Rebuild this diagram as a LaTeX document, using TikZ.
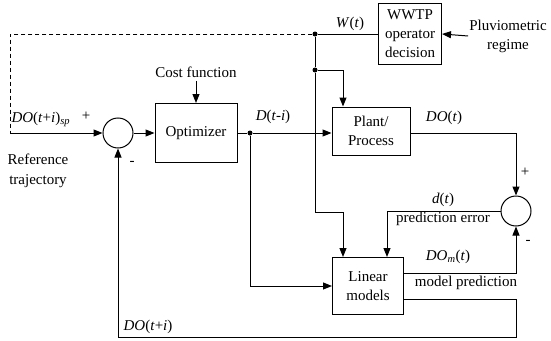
\documentclass[tikz,border=0pt]{standalone}
\usepackage{fontspec}
\setmainfont{Liberation Serif}
\usetikzlibrary{arrows.meta}

\begin{document}
\begin{tikzpicture}[%%
  x=1pt,y=-1pt,
  font=\rmfamily\fontsize{15}{19}\selectfont,
  blockStyle/.style={draw,line width=1pt,rectangle,align=center,inner sep=2pt},
  sumStyle/.style={draw,line width=1pt,circle,minimum size=30pt,inner sep=0pt},
  lineStyle/.style={-,line width=1pt,draw},
  arrowStyle/.style={-{Triangle[length=9pt,width=7pt]},line width=1pt,draw},
  dotStyle/.style={circle,fill,inner sep=0pt,minimum size=5pt}
]
\useasboundingbox (0,0) rectangle (551,340);
%%
%% Blocks and summing points.
\node[sumStyle] (sumRef) at (118,133) {};
\node[blockStyle,minimum width=82pt,minimum height=59pt] (optim) at (196,133) {Optimizer};
\node[blockStyle,minimum width=78pt,minimum height=48pt] (plant) at (371,131) {Plant/\\Process};
\node[blockStyle,minimum width=71pt,minimum height=57pt] (linmod) at (368,286) {Linear\\models};
\node[blockStyle,minimum width=63pt,minimum height=61pt] (wwtp) at (410,34) {WWTP\\operator\\decision};
\node[sumStyle] (sumErr) at (516,211) {};
%%
%% Branch points.
\node[dotStyle] (dotD) at (250,133) {};
\node[dotStyle] (dotW) at (315,34) {};
\node[dotStyle] (dotP) at (315,70) {};
\coordinate (refCorner) at (10,34);
\coordinate (refIn) at (10,133);
\coordinate (wBend) at (315,212);
\coordinate (fbCorner) at (516,337);
%%
%% Outside inputs.
\node (costLabel) at (196,72) {Cost function};
\node[inner sep=1pt,align=center] (pluvio) at (508,36) {Pluviometric\\regime};
\path[arrowStyle] (costLabel) -- (optim);
\path[arrowStyle] (pluvio.west) -- (wwtp.east);
%%
%% Reference path.
\path[lineStyle,dash pattern=on 4pt off 3pt] (dotW) -- (refCorner) -- (refIn);
\path[arrowStyle] (refIn) -- (sumRef);
\path[arrowStyle] (sumRef) -- (optim);
%%
%% Control action.
\path[lineStyle] (optim) -- (dotD);
\path[arrowStyle] (dotD) -- (plant.west |- dotD);
\path[arrowStyle] (dotD) |- (linmod.west);
%%
%% Disturbance.
\path[lineStyle] (dotW) -- (wwtp);
\path[lineStyle] (dotW) -- (dotP) -- (wBend);
\path[arrowStyle] (dotP) -| ([xshift=-28pt]plant.north);
\path[arrowStyle] (wBend) -| ([xshift=-25pt]linmod.north);
%%
%% Error loop.
\path[arrowStyle] (plant.east |- dotD) -| (sumErr.north);
\path[arrowStyle] (sumErr.west) -| ([xshift=19pt]linmod.north);
\path[arrowStyle] ([yshift=13pt]linmod.east) -| (sumErr.south);
\path[arrowStyle] ([yshift=-13pt]linmod.east) -| (fbCorner) -| (sumRef.south);
%%
%% Labels.
\node[anchor=west] at (8,119) {\textit{DO}(\textit{t}+\textit{i})\textsubscript{\textit{sp}}};
\node at (86,116) {+};
\node at (132,163) {-};
\node[align=center] at (38,171) {Reference\\[1pt]trajectory};
\node at (273,117) {\textit{D}(\textit{t}-\textit{i})};
\node at (350,24) {\textit{W}(\textit{t})};
\node at (444,118) {\textit{DO}(\textit{t})};
\node at (525,172) {+};
\node at (528,242) {-};
\node at (443,200) {\textit{d}(\textit{t})};
\node at (443,219) {prediction error};
\node at (448,257) {\textit{DO\textsubscript{m}}(\textit{t})};
\node at (466,283) {model prediction};
\node at (148,327) {\textit{DO}(\textit{t}+\textit{i})};
\end{tikzpicture}
\end{document}
